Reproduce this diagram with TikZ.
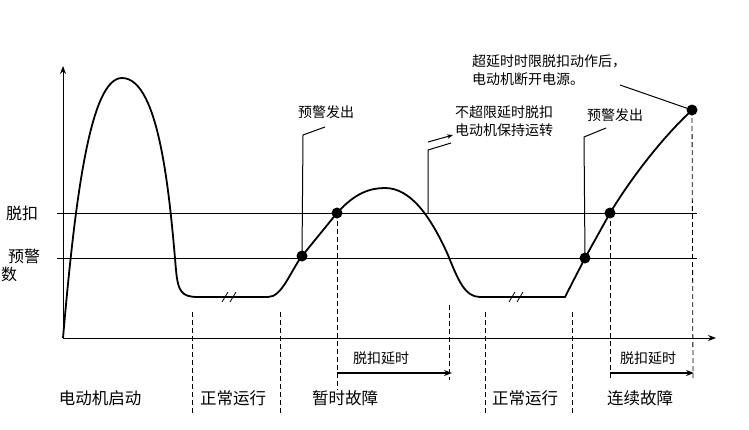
\documentclass[tikz,border=0pt]{standalone}
\usepackage{fontspec}
\setmainfont{Noto Sans CJK SC}
\usetikzlibrary{arrows.meta}
\begin{document}
\begin{tikzpicture}[x=1pt,y=-1pt,
  lbl/.style={font=\fontsize{14}{18}\selectfont, inner sep=0pt},
  blbl/.style={font=\fontsize{16.5}{18}\selectfont, inner sep=0pt},
  slbl/.style={font=\fontsize{16}{18}\selectfont, inner sep=0pt},
  dotc/.style={circle,fill=black,inner sep=0pt,minimum size=11pt},
  ax/.style={line width=0.8pt},
  dsh/.style={dashed, line width=0.8pt, dash pattern=on 5pt off 3pt},
  curve/.style={line width=1.8pt}]
\useasboundingbox (0,0) rectangle (749,429);
% axes
\coordinate (O) at (63,338);
\coordinate (Ytop) at (63,66);
\coordinate (Xend) at (716,338);
\draw[ax,-{Stealth[length=8pt]}] (O) -- (Ytop);
\draw[ax,-{Stealth[length=8pt]}] (O) -- (Xend);
% threshold lines
\coordinate (t1) at (57,213); \coordinate (t2) at (697,213);
\coordinate (w1) at (57,258); \coordinate (w2) at (697,258);
\draw[ax] (t1) -- (t2);
\draw[ax] (w1) -- (w2);
\node[slbl, anchor=west] (ltk) at (6,213) {脱扣};
\node[slbl, anchor=west] (lyj) at (8,256) {预警};
\node[slbl, anchor=west] (ls) at (1,274) {数};
% dots
\node[dotc] (d1) at (302,256) {};
\node[dotc] (d2) at (337,213) {};
\node[dotc] (d3) at (585,258) {};
\node[dotc] (d4) at (610,213) {};
\node[dotc] (d5) at (692,110) {};
% curve
\draw[curve] (O) .. controls (75,200) and (90,78) .. (122,78)
  .. controls (160,78) and (170,200) .. (176,270)
  .. controls (178,292) and (182,297) .. (198,297)
  -- (268,297) .. controls (282,297) and (290,272) .. (d1.center)
  -- (d2.center) .. controls (355,193) and (370,188) .. (385,188)
  .. controls (410,188) and (430,215) .. (448,255)
  .. controls (458,280) and (465,297) .. (480,297)
  -- (565,297) -- (d3.center) -- (d4.center)
  .. controls (630,180) and (660,140) .. (d5.center);
% break marks
\foreach \x in {225,233,512,520}
  \draw[line width=0.8pt] (\x-3,302) -- (\x+3,292);
% callouts
\coordinate (c1a) at (303,135); \coordinate (c1b) at (325,127);
\draw[line width=1pt] (d1.center) -- (c1a) -- (c1b);
\node[lbl, anchor=west] (n1) at (298,112) {预警发出};
\coordinate (c2a) at (428,150); \coordinate (c2b) at (451,143);
\coordinate (c2c) at (428,142); \coordinate (c2d) at (453,135);
\draw[line width=1pt] (428,213) -- (c2a) -- (c2b);
\draw[line width=1pt,-{Stealth[length=6pt]}] (c2c) -- (c2d);
\node[lbl, anchor=west, align=left] (n2) at (455,121) {不超限延时脱扣\\电动机保持运转};
\coordinate (c3a) at (584,137); \coordinate (c3b) at (606,128);
\draw[line width=1pt] (d3.center) -- (c3a) -- (c3b);
\node[lbl, anchor=west] (n3) at (587,115) {预警发出};
\coordinate (c4) at (620,85);
\draw[line width=1pt] (d5.center) -- (c4);
\node[lbl, anchor=west, align=left] (n4) at (472,70) {超延时时限脱扣动作后，\\电动机断开电源。};
% dashed verticals
\draw[dsh] (192,312) -- (192,415);
\draw[dsh] (280,312) -- (280,415);
\draw[dsh] (d2.center) -- (337,390);
\draw[dsh] (449,305) -- (449,380);
\draw[dsh] (485,312) -- (485,415);
\draw[dsh] (572,312) -- (572,415);
\draw[dsh] (d4.center) -- (610,378);
\draw[dsh] (d5.center) -- (693,378);
% delay arrows
\coordinate (a1) at (337,373); \coordinate (a2) at (452,373);
\draw[line width=2pt,-{Stealth[length=8pt]}] (a1) -- (a2);
\node[lbl] (dl1) at (381,358) {脱扣延时};
\coordinate (b1) at (610,373); \coordinate (b2) at (694,373);
\draw[line width=2pt,-{Stealth[length=8pt]}] (b1) -- (b2);
\node[lbl] (dl2) at (648,358) {脱扣延时};
% bottom labels
\node[blbl] (s1) at (100,398) {电动机启动};
\node[blbl] (s2) at (233,398) {正常运行};
\node[blbl] (s3) at (345,398) {暂时故障};
\node[blbl] (s4) at (525,398) {正常运行};
\node[blbl] (s5) at (640,398) {连续故障};
\end{tikzpicture}
\end{document}
